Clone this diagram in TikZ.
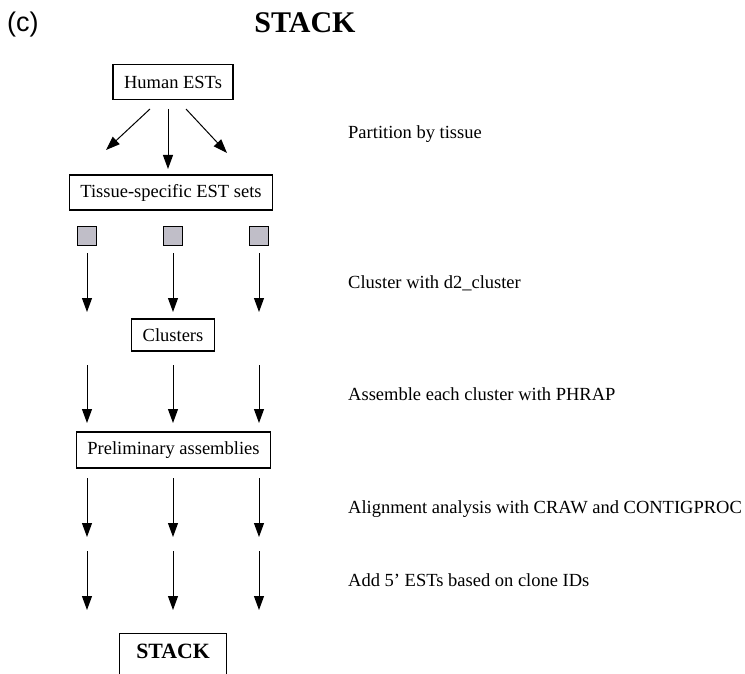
\documentclass[tikz,border=0pt]{standalone}
\usepackage{fontspec}
\setmainfont{Liberation Serif}
\newfontfamily\labelsans{Liberation Sans}
\usepackage{xcolor}
\definecolor{stackgray}{RGB}{192,190,200}
\usetikzlibrary{arrows.meta,positioning}
\tikzset{
  stagebox/.style={draw, line width=1.3pt, inner xsep=11pt, inner ysep=0pt, minimum height=35pt, font=\fontsize{18.5}{22}\selectfont},
  setsquare/.style={draw, line width=1.3pt, fill=stackgray, minimum size=19pt, inner sep=0pt},
  flow/.style={line width=1pt, -{Triangle[length=14pt,width=10pt]}},
  steplabel/.style={anchor=base west, inner sep=0pt, font=\fontsize{18.5}{22}\selectfont}
}
\begin{document}
\begin{tikzpicture}[x=1pt, y=-1pt]
\useasboundingbox (0,0) rectangle (745,674);
% Titles
\node[anchor=base west, inner sep=0pt, font=\labelsans\fontsize{27}{31}\selectfont] (panel) at (7,32) {(c)};
\node[anchor=base, inner sep=0pt, font=\bfseries\fontsize{30}{34}\selectfont] (title) at (305,33) {STACK};
% Stages
\node[stagebox] (human) at (173,82) {Human ESTs};
\node[stagebox] (tissue) at (171,192.5) {Tissue-specific EST sets};
\node[stagebox, minimum height=32pt] (clusters) at (173,335) {Clusters};
\node[stagebox, minimum height=36pt] (prelim) at (173.5,450) {Preliminary assemblies};
\node[stagebox, minimum height=0pt, inner xsep=17pt, inner ysep=10pt, text height=14.5pt, text depth=25pt, font=\bfseries\fontsize{21.8}{26}\selectfont, anchor=north] (stack) at (173,633) {STACK};
% Partition arrows
\coordinate (p1) at (150,109);
\coordinate (p2) at (168,109);
\coordinate (p3) at (186,109);
\coordinate (q1) at (106,150);
\coordinate (q2) at (168,169);
\coordinate (q3) at (227,153);
\foreach \i in {1,2,3}
  \draw[flow] (p\i) -- (q\i);
% Column arrows
\foreach \i/\x in {1/87,2/173,3/259} {
  \node[setsquare] (sq\i) at (\x,236) {};
  \coordinate (a\i) at (\x,253);  \coordinate (b\i) at (\x,312);
  \coordinate (c\i) at (\x,365);  \coordinate (d\i) at (\x,423);
  \coordinate (e\i) at (\x,478);  \coordinate (f\i) at (\x,537);
  \coordinate (g\i) at (\x,551);  \coordinate (h\i) at (\x,610);
  \draw[flow] (a\i) -- (b\i);
  \draw[flow] (c\i) -- (d\i);
  \draw[flow] (e\i) -- (f\i);
  \draw[flow] (g\i) -- (h\i);
}
% Step labels
\node[steplabel] (partition) at (348,139) {Partition by tissue};
\node[steplabel] (cluster) at (348,288) {Cluster with d2\_cluster};
\node[steplabel] (assemble) at (348,400) {Assemble each cluster with PHRAP};
\node[steplabel] (align) at (348,513) {Alignment analysis with CRAW and CONTIGPROC};
\node[steplabel] (addfive) at (348,586) {Add 5’ ESTs based on clone IDs};
\end{tikzpicture}
\end{document}
